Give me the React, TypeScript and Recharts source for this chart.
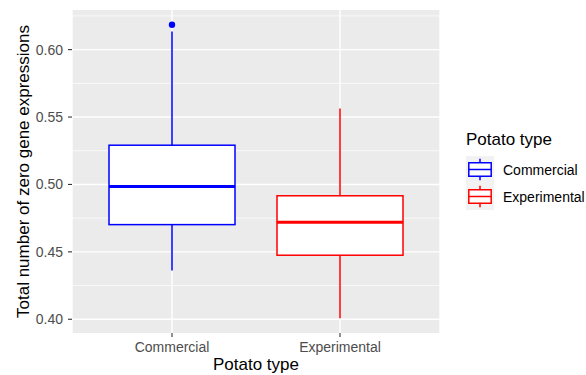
import { ComposedChart, Bar, XAxis, YAxis, CartesianGrid, Label } from 'recharts'

const categories = ['Commercial', 'Experimental']
const lowerWhisker = [0.4362, 0.4007]
const firstQuartile = [0.4702, 0.4475]
const medians = [0.4985, 0.4719]
const thirdQuartile = [0.5291, 0.4916]
const upperWhisker = [0.6135, 0.5564]
const outliers: number[][] = [[0.6185], []]

const yTicks = [0.4, 0.45, 0.5, 0.55, 0.6]
const yMinorLines = [0.425, 0.475, 0.525, 0.575, 0.625]

const allValues = [...lowerWhisker, ...upperWhisker, ...outliers.flat()]
const lo = Math.min(...allValues)
const hi = Math.max(...allValues)
const pad = (hi - lo) * 0.05
const yDomain = [lo - pad, hi + pad]

const COLORS: Record<string, string> = { Commercial: '#0000FF', Experimental: '#FF0000' }
const FONT = '"Liberation Sans", Arial, sans-serif'

interface BoxRow {
  name: string
  min: number
  q1: number
  median: number
  q3: number
  max: number
  outliers: number[]
  range: [number, number]
}

const data: BoxRow[] = categories.map((name, i) => ({
  name,
  min: lowerWhisker[i],
  q1: firstQuartile[i],
  median: medians[i],
  q3: thirdQuartile[i],
  max: upperWhisker[i],
  outliers: outliers[i],
  range: [lowerWhisker[i], upperWhisker[i]],
}))

// The bar spans whisker-to-whisker; everything else is placed on the same linear scale
function BoxShape(props: any) {
  const { x, y, width, height, payload } = props
  const row = payload as BoxRow
  const top = Math.min(y, y + height)
  const h = Math.abs(height)
  const toY = (v: number) => top + ((row.max - v) / (row.max - row.min)) * h
  const cx = x + width / 2
  const color = COLORS[row.name]
  return (
    <g>
      <line x1={cx} x2={cx} y1={toY(row.max)} y2={toY(row.q3)} stroke={color} strokeWidth={1.5} />
      <line x1={cx} x2={cx} y1={toY(row.q1)} y2={toY(row.min)} stroke={color} strokeWidth={1.5} />
      <rect
        x={x}
        y={toY(row.q3)}
        width={width}
        height={toY(row.q1) - toY(row.q3)}
        fill="#FFFFFF"
        stroke={color}
        strokeWidth={1.5}
      />
      <line x1={x} x2={x + width} y1={toY(row.median)} y2={toY(row.median)} stroke={color} strokeWidth={3} />
      {row.outliers.map((v) => (
        <circle key={v} cx={cx} cy={toY(v)} r={3.2} fill={color} />
      ))}
    </g>
  )
}

function LegendKey({ color }: { color: string }) {
  return (
    <svg width={28} height={27} style={{ display: 'block' }}>
      <rect x={0} y={0} width={28} height={27} fill="#F2F2F2" />
      <line x1={14} x2={14} y1={2.7} y2={6.75} stroke={color} strokeWidth={1.5} />
      <line x1={14} x2={14} y1={20.25} y2={24.3} stroke={color} strokeWidth={1.5} />
      <rect x={2.8} y={6.75} width={22.4} height={13.5} fill="#FFFFFF" stroke={color} strokeWidth={1.5} />
      <line x1={2.8} x2={25.2} y1={13.5} y2={13.5} stroke={color} strokeWidth={1.5} />
    </svg>
  )
}

function BoxLegend() {
  return (
    <div style={{ position: 'absolute', left: 466, top: 130, fontFamily: FONT }}>
      <div style={{ fontSize: 17, color: '#000', lineHeight: '20px', marginBottom: 6 }}>Potato type</div>
      {categories.map((c) => (
        <div key={c} style={{ display: 'flex', alignItems: 'center', height: 27 }}>
          <LegendKey color={COLORS[c]} />
          <span style={{ fontSize: 14, color: '#000', marginLeft: 9 }}>{c}</span>
        </div>
      ))}
    </div>
  )
}

function YTitle(props: any) {
  const { viewBox } = props
  const x = viewBox.x + 23
  const y = viewBox.y + viewBox.height / 2
  return (
    <text
      x={x}
      y={y}
      transform={`rotate(-90, ${x}, ${y})`}
      textAnchor="middle"
      dominantBaseline="central"
      fontSize={17}
      fontFamily={FONT}
      fill="#000"
    >
      Total number of zero gene expressions
    </text>
  )
}

export default function App() {
  return (
    <div style={{ position: 'absolute', left: 0, top: 0, width: 586, height: 375, background: '#fff' }}>
      <ComposedChart width={586} height={375} data={data} margin={{ top: 10, right: 146, bottom: 0, left: 0 }}>
        <CartesianGrid
          fill="#EBEBEB"
          stroke="#FFFFFF"
          strokeWidth={0.7}
          vertical={false}
          horizontalValues={yMinorLines}
        />
        <CartesianGrid stroke="#FFFFFF" strokeWidth={1.4} horizontalValues={yTicks} />
        <XAxis
          dataKey="name"
          type="category"
          padding={{ left: 16, right: 16 }}
          height={42}
          axisLine={false}
          tickSize={4}
          tickMargin={5}
          tickLine={{ stroke: '#333333', strokeWidth: 1.1 }}
          tick={{ fontSize: 14, fill: '#4D4D4D', fontFamily: FONT }}
        >
          <Label value="Potato type" position="insideBottom" offset={5} fontSize={17} fill="#000" fontFamily={FONT} />
        </XAxis>
        <YAxis
          type="number"
          domain={yDomain}
          ticks={yTicks}
          tickFormatter={(v: number) => v.toFixed(2)}
          width={72}
          axisLine={false}
          tickSize={4}
          tickMargin={5}
          tickLine={{ stroke: '#333333', strokeWidth: 1.1 }}
          tick={{ fontSize: 14, fill: '#4D4D4D', fontFamily: FONT }}
        >
          <Label content={<YTitle />} />
        </YAxis>
        <Bar dataKey="range" barSize={126} shape={<BoxShape />} isAnimationActive={false} />
      </ComposedChart>
      <BoxLegend />
    </div>
  )
}
